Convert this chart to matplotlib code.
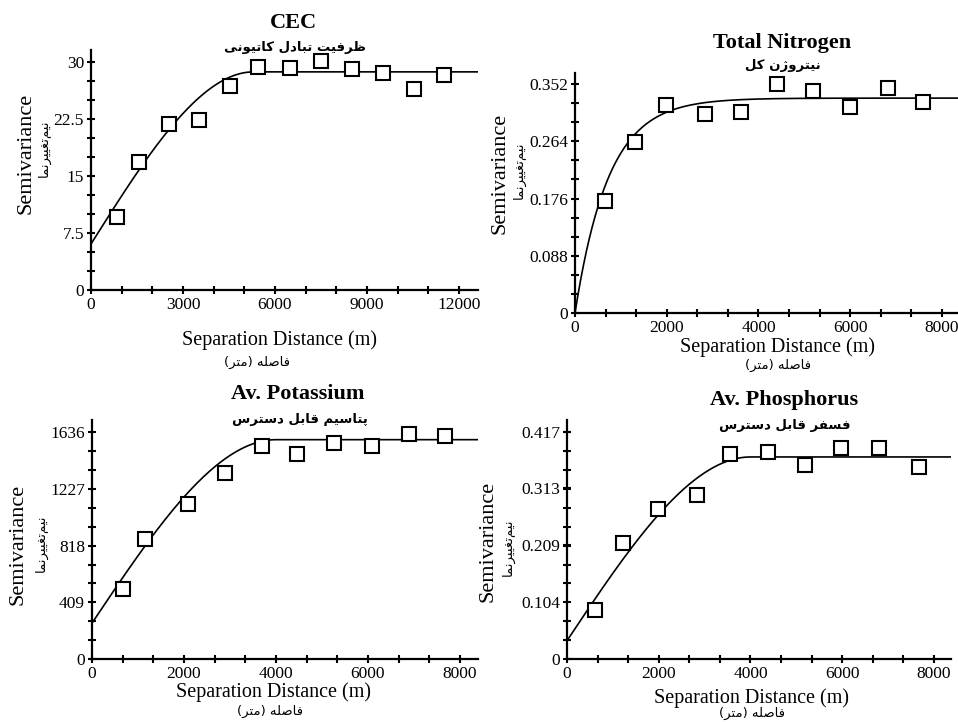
import matplotlib
matplotlib.use("Agg")
import matplotlib.pyplot as plt
import numpy as np
from matplotlib.ticker import MultipleLocator, AutoMinorLocator

# ── data ───────────────────────────────────────────────────────────────────
cec_lag = [835, 1551, 2539, 3526, 4524, 5457, 6488, 7497, 8506, 9526, 10524, 11511]
cec_gamma = [9.62, 16.9, 21.87, 22.35, 26.88, 29.34, 29.2, 30.17, 29.12, 28.55, 26.48, 28.28]
cec_model = {"nugget": 6.06, "sill": 28.72, "range": 5300}

tn_lag = [655, 1316, 1978, 2844, 3622, 4400, 5178, 6000, 6815, 7593]
tn_gamma = [0.1729, 0.2625, 0.320, 0.306, 0.3088, 0.352, 0.3417, 0.3165, 0.3459, 0.3242]
tn_model = {"nugget": 0.0, "sill": 0.3304, "range": 2200}

k_lag = [674, 1153, 2088, 2900, 3698, 4467, 5265, 6077, 6882, 7680]
k_gamma = [502, 865, 1117, 1340, 1540, 1480, 1561, 1535, 1621, 1612]
k_model = {"nugget": 259, "sill": 1583, "range": 4000}

p_lag = [618, 1222, 1978, 2829, 3564, 4385, 5178, 5971, 6793, 7680]
p_gamma = [0.0891, 0.2125, 0.276, 0.301, 0.376, 0.379, 0.356, 0.3877, 0.3877, 0.3529]
p_model = {"nugget": 0.0336, "sill": 0.3706, "range": 4000}

cec_yticks = [0, 7.5, 15, 22.5, 30]
tn_yticks = [0, 0.088, 0.176, 0.264, 0.352]
k_yticks = [0, 409, 818, 1227, 1636]
p_yticks = [0, 0.104, 0.209, 0.313, 0.417]

W, H = 958, 722


# ── persian shaping (matplotlib has no arabic shaping) ─────────────────────
FORMS = {
    "ا": ("\uFE8D", "\uFE8E", None, None),
    "ب": ("\uFE8F", "\uFE90", "\uFE91", "\uFE92"),
    "پ": ("\uFB56", "\uFB57", "\uFB58", "\uFB59"),
    "ت": ("\uFE95", "\uFE96", "\uFE97", "\uFE98"),
    "د": ("\uFEA9", "\uFEAA", None, None),
    "ر": ("\uFEAD", "\uFEAE", None, None),
    "ژ": ("\uFB8A", "\uFB8B", None, None),
    "س": ("\uFEB1", "\uFEB2", "\uFEB3", "\uFEB4"),
    "ص": ("\uFEB9", "\uFEBA", "\uFEBB", "\uFEBC"),
    "ظ": ("\uFEC5", "\uFEC6", "\uFEC7", "\uFEC8"),
    "غ": ("\uFECD", "\uFECE", "\uFECF", "\uFED0"),
    "ف": ("\uFED1", "\uFED2", "\uFED3", "\uFED4"),
    "ق": ("\uFED5", "\uFED6", "\uFED7", "\uFED8"),
    "ک": ("\uFB8E", "\uFB8F", "\uFB90", "\uFB91"),
    "ل": ("\uFEDD", "\uFEDE", "\uFEDF", "\uFEE0"),
    "م": ("\uFEE1", "\uFEE2", "\uFEE3", "\uFEE4"),
    "ن": ("\uFEE5", "\uFEE6", "\uFEE7", "\uFEE8"),
    "ه": ("\uFEE9", "\uFEEA", "\uFEEB", "\uFEEC"),
    "و": ("\uFEED", "\uFEEE", None, None),
    "ی": ("\uFBFC", "\uFBFD", "\uFBFE", "\uFBFF"),
}


def fa(s):
    s = s.replace("ي", "ی").replace("ك", "ک")
    out = []
    for i, ch in enumerate(s):
        if ch not in FORMS:
            if ch != "\u200c":
                out.append(ch)
            continue
        prev = s[i - 1] if i > 0 else ""
        nxt = s[i + 1] if i + 1 < len(s) else ""
        jp = prev in FORMS and FORMS[prev][2] is not None
        jn = nxt in FORMS and FORMS[ch][2] is not None
        iso, fin, ini, med = FORMS[ch]
        if jp and jn:
            out.append(med)
        elif jp:
            out.append(fin)
        elif jn:
            out.append(ini)
        else:
            out.append(iso)
    mirror = {"(": ")", ")": "("}
    return "".join(mirror.get(c, c) for c in reversed(out))


def spherical(h, nugget, sill, range):
    r = np.minimum(h / range, 1.0)
    return nugget + (sill - nugget) * (1.5 * r - 0.5 * r ** 3)


def exponential(h, nugget, sill, range):
    return nugget + (sill - nugget) * (1 - np.exp(-3 * h / range))


plt.rcParams.update({
    "font.family": ["Liberation Serif", "DejaVu Sans"],
    "axes.spines.top": False,
    "axes.spines.right": False,
})

fig = plt.figure(figsize=(W / 100, H / 100), dpi=100)


def px(x, y):
    return x / W, 1 - y / H


def make_axes(x0, y0, x1, y1):
    l, b = px(x0, y0)
    r, t = px(x1, y1)
    return fig.add_axes([l, b, r - l, t - b])


FA_FONT = "DejaVu Sans"

panels = [
    dict(box=(91, 290, 478, 50), xlim=12620, ylim=31.6, xstep=3000,
         lag=cec_lag, gamma=cec_gamma, model=spherical, par=cec_model,
         yticks=cec_yticks, ylabels=["0", "7.5", "15", "22.5", "30"],
         title="CEC", sub="ظرفیت تبادل کاتیونی",
         title_xy=(293, 23), sub_xy=(295, 47),
         ylab_xy=(26, 153), ylabfa_xy=(44, 148),
         xlab_xy=(279, 340), xlabfa_xy=(257, 362)),
    dict(box=(575, 313, 958, 73), xlim=8350, ylim=0.369, xstep=2000,
         lag=tn_lag, gamma=tn_gamma, model=exponential, par=tn_model,
         yticks=tn_yticks, ylabels=["0", "0.088", "0.176", "0.264", "0.352"],
         title="Total Nitrogen", sub="نیتروژن کل",
         title_xy=(782, 43), sub_xy=(783, 65),
         ylab_xy=(500, 173), ylabfa_xy=(519, 170),
         xlab_xy=(777, 347), xlabfa_xy=(778, 365)),
    dict(box=(92, 659, 478, 420), xlim=8392, ylim=1725, xstep=2000,
         lag=k_lag, gamma=k_gamma, model=spherical, par=k_model,
         yticks=k_yticks, ylabels=["0", "409", "818", "1227", "1636"],
         title="Av. Potassium", sub="پتاسیم قابل دسترس",
         title_xy=(298, 394), sub_xy=(300, 419),
         ylab_xy=(18, 544), ylabfa_xy=(41, 543),
         xlab_xy=(273, 692), xlabfa_xy=(270, 711)),
    dict(box=(567, 659, 951, 420), xlim=8371, ylim=0.4384, xstep=2000,
         lag=p_lag, gamma=p_gamma, model=spherical, par=p_model,
         yticks=p_yticks, ylabels=["0", "0.104", "0.209", "0.313", "0.417"],
         title="Av. Phosphorus", sub="فسفر قابل دسترس",
         title_xy=(784, 400), sub_xy=(785, 425),
         ylab_xy=(488, 541), ylabfa_xy=(508, 547),
         xlab_xy=(752, 698), xlabfa_xy=(752, 713)),
]

for p in panels:
    ax = make_axes(*p["box"])
    ax.set_xlim(0, p["xlim"])
    ax.set_ylim(0, p["ylim"])
    ax.patch.set_alpha(0)
    for s in ("left", "bottom"):
        ax.spines[s].set_linewidth(1.6)

    h = np.linspace(0, p["xlim"], 400)
    ax.plot(h, p["model"](h, **p["par"]), color="black", lw=1.2, zorder=2)
    ax.plot(p["lag"], p["gamma"], "s", ms=9.5, mfc="white", mec="black",
            mew=1.5, zorder=3, clip_on=False)

    ax.xaxis.set_major_locator(MultipleLocator(p["xstep"]))
    ax.xaxis.set_minor_locator(AutoMinorLocator(3))
    ax.set_yticks(p["yticks"])
    ax.set_yticklabels(p["ylabels"])
    ax.yaxis.set_minor_locator(AutoMinorLocator(3))
    ax.tick_params(which="both", direction="inout", length=6, width=1.5,
                   labelsize=12.5, pad=2)
    ax.tick_params(axis="x", pad=2)

    fig.text(*px(*p["title_xy"]), p["title"], ha="center", va="center",
             fontsize=16, fontweight="bold", family="Liberation Serif")
    fig.text(*px(*p["sub_xy"]), fa(p["sub"]), ha="center", va="center",
             fontsize=9.5, fontweight="bold", family=FA_FONT)
    fig.text(*px(*p["ylab_xy"]), "Semivariance", ha="center", va="center",
             rotation=90, fontsize=16, family="Liberation Serif")
    fig.text(*px(*p["ylabfa_xy"]), fa("نیم‌تغییرنما"), ha="center", va="center",
             rotation=90, fontsize=9.5, family=FA_FONT)
    fig.text(*px(*p["xlab_xy"]), "Separation Distance (m)", ha="center",
             va="center", fontsize=14.5, family="Liberation Serif")
    fig.text(*px(*p["xlabfa_xy"]), fa("فاصله (متر)"), ha="center", va="center",
             fontsize=9.5, family=FA_FONT)

fig.savefig("out.png", dpi=100)
